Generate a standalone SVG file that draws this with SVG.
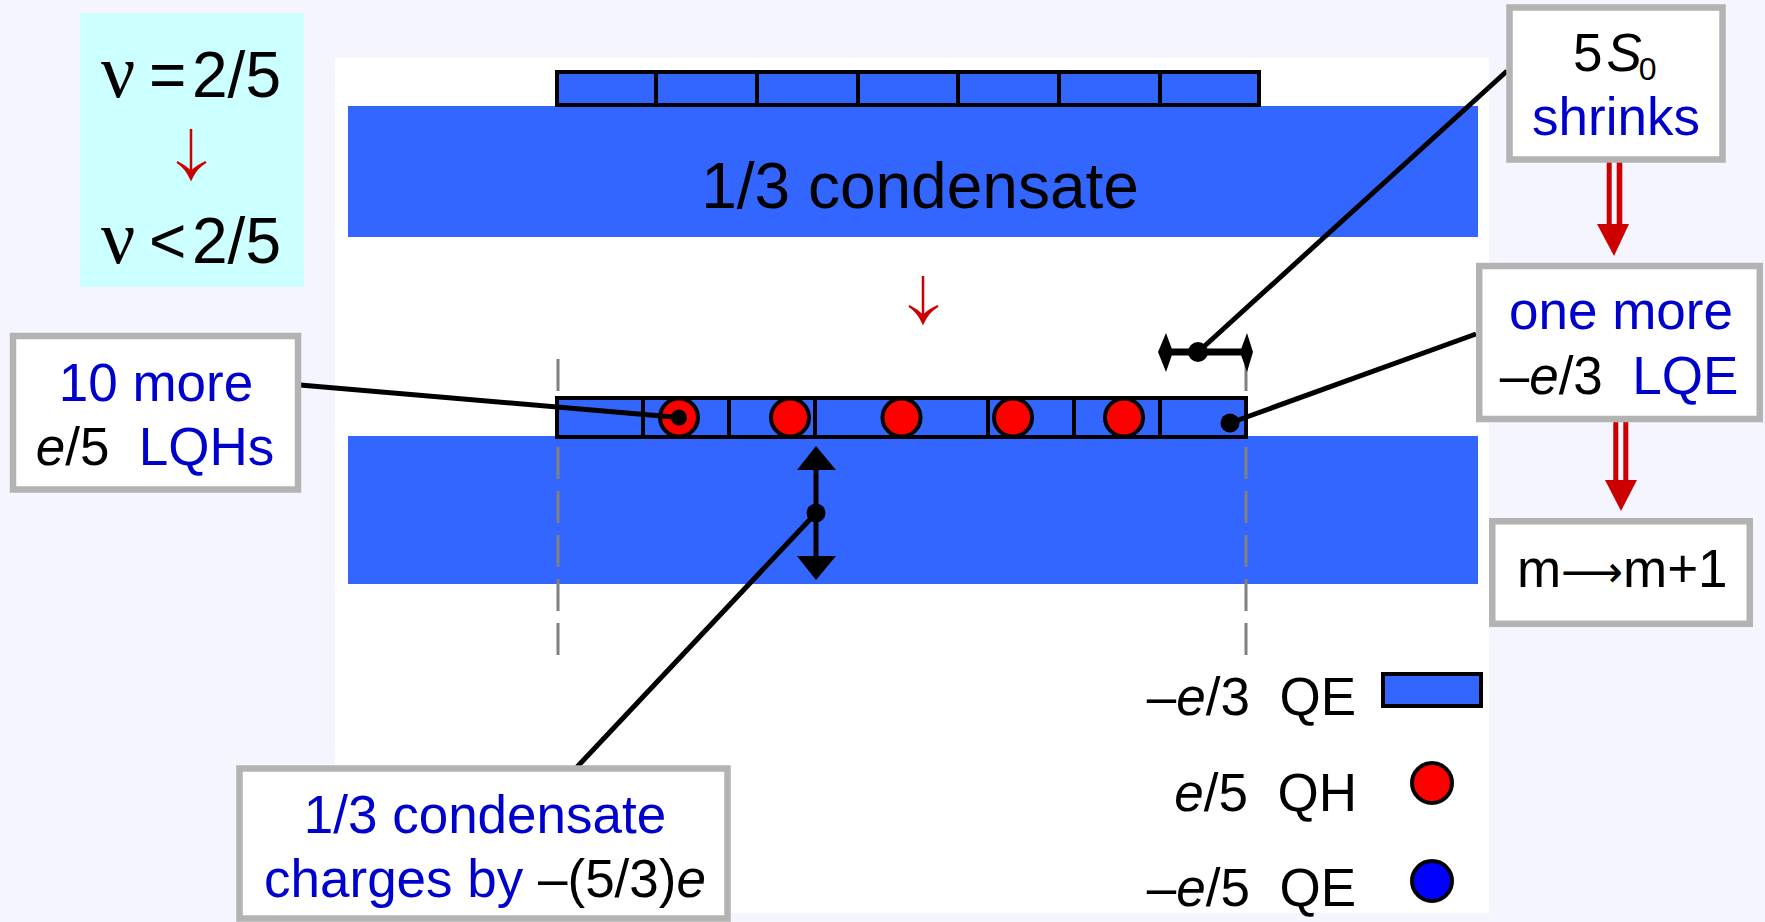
<svg xmlns="http://www.w3.org/2000/svg" width="1765" height="922" viewBox="0 0 1765 922">
<style>
.t{font-family:"Liberation Sans",Arial,sans-serif;font-size:53px;fill:#000}
.b{fill:#0000CC}
.i{font-style:italic}
.box{fill:#fff;stroke:#B3B3B3;stroke-width:6.5}
.cell{fill:#3366FF;stroke:#000;stroke-width:4}
.div{stroke:#000;stroke-width:4}
.qh{fill:#FF0000;stroke:#000;stroke-width:4}
.lead{stroke:#000;stroke-width:5;fill:none}
.dash{stroke:#808080;stroke-width:3;stroke-dasharray:32 12;fill:none}
.band{fill:#3366FF}
.red{fill:#CC0000}
.rarrow{stroke:#CC0000;stroke-width:2.5;fill:none}
.nu{font-family:"Liberation Serif","Times New Roman",serif;font-size:76px}
</style>
<rect x="0" y="0" width="1765" height="922" fill="#F4F5FE"/>
<rect x="335" y="58" width="1154" height="855" fill="#fff"/>

<g id="nu-box">
  <rect x="80" y="13" width="224" height="274" fill="#CCFFFF"/>
  <text class="t" y="97" style="font-size:64px"><tspan class="nu" x="101">ν</tspan><tspan x="149">=</tspan><tspan x="192">2/5</tspan></text>
  <path class="rarrow" d="M191,129 V177"/>
  <path class="red" d="M177,162 Q186,168 191,179 Q196,168 206,162 Q197,166 191,172 Q185,166 177,162 Z" stroke="#CC0000" stroke-width="2"/>
  <text class="t" y="263" style="font-size:64px"><tspan class="nu" x="101">ν</tspan><tspan x="149">&lt;</tspan><tspan x="192">2/5</tspan></text>
</g>

<g id="top-band">
  <rect class="band" x="348" y="106" width="1130" height="131"/>
  <text class="t" x="920" y="208" text-anchor="middle" style="font-size:64px">1/3 condensate</text>
</g>

<g id="top-row">
  <rect class="cell" x="557" y="72" width="702" height="33"/>
  <path class="div" d="M656,72V105M757,72V105M858,72V105M958,72V105M1059,72V105M1160,72V105"/>
</g>

<g id="mid-arrow">
  <path class="rarrow" d="M923,276 V321"/>
  <path class="red" d="M909,306 Q918,312 923,323 Q928,312 938,306 Q929,310 923,316 Q917,310 909,306 Z" stroke="#CC0000" stroke-width="2"/>
</g>

<g id="bottom-band">
  <rect class="band" x="348" y="436" width="1130" height="148"/>
</g>

<g id="dashed-guides">
  <path class="dash" d="M558,359V655"/>
  <path class="dash" d="M1246,359V655"/>
</g>

<g id="mid-row">
  <rect class="cell" x="557" y="398" width="689" height="39"/>
  <path class="div" d="M643,398V437M729,398V437M815,398V437M902,398V437M988,398V437M1074,398V437M1160,398V437"/>
  <circle class="qh" cx="679" cy="417.5" r="19"/>
  <circle class="qh" cx="790" cy="417.5" r="19"/>
  <circle class="qh" cx="901.5" cy="417.5" r="19"/>
  <circle class="qh" cx="1013" cy="417.5" r="19"/>
  <circle class="qh" cx="1124" cy="417.5" r="19"/>
</g>

<g id="charge-arrow">
  <path d="M816,468V558" stroke="#000" stroke-width="5"/>
  <path d="M797,470H836L816,446Z M797,556H836L816,580Z" fill="#000"/>
</g>

<g id="shrink-arrow">
  <path d="M1170,352H1242" stroke="#000" stroke-width="7"/>
  <path d="M1158,352L1166,333L1173,352L1166,372Z M1253,352L1247,333L1240,352L1247,372Z" fill="#000"/>
</g>

<g id="connectors">
  <path class="lead" d="M300,385L679,417.5"/>
  <circle cx="679" cy="417.5" r="8" fill="#000"/>
  <path class="lead" d="M816,513L577,767"/>
  <circle cx="816" cy="513" r="9.5" fill="#000"/>
  <path class="lead" d="M1198,352L1507,71"/>
  <circle cx="1198" cy="352" r="10" fill="#000"/>
  <path class="lead" d="M1230,423L1476,334"/>
  <circle cx="1230" cy="423" r="9.5" fill="#000"/>
  <path d="M1606.7,160H1611.7V226H1606.7Z M1616.7,160H1622.3V226H1616.7Z" class="red"/>
  <path d="M1597,224H1629L1614,256Z" class="red"/>
  <path d="M1613.3,422H1618.3V482H1613.3Z M1623.3,422H1628.3V482H1623.3Z" class="red"/>
  <path d="M1605,480H1637L1621,511Z" class="red"/>
</g>

<g id="box-shrinks">
  <rect class="box" x="1509.5" y="7.5" width="213" height="152"/>
  <text class="t" x="1573" y="71">5<tspan class="i" dx="4">S</tspan><tspan dx="-3" dy="9" style="font-size:32px">0</tspan></text>
  <text class="t b" x="1616" y="135" text-anchor="middle">shrinks</text>
</g>

<g id="box-lqe">
  <rect class="box" x="1479.25" y="266" width="280.5" height="153"/>
  <text class="t b" x="1621" y="329" text-anchor="middle">one more</text>
  <text class="t" x="1619" y="394" text-anchor="middle" xml:space="preserve">–<tspan class="i">e</tspan>/3  <tspan class="b">LQE</tspan></text>
</g>

<g id="box-m">
  <rect class="box" x="1492.25" y="521.25" width="257.5" height="102.5"/>
  <text class="t" y="587"><tspan x="1517">m</tspan><tspan x="1561" textLength="62" lengthAdjust="spacingAndGlyphs" style="font-family:'DejaVu Sans',sans-serif;font-size:44px">⟶</tspan><tspan x="1623">m+1</tspan></text>
</g>

<g id="box-lqh">
  <rect class="box" x="13" y="336" width="285" height="153.5"/>
  <text class="t b" x="156" y="401" text-anchor="middle">10 more</text>
  <text class="t" x="155" y="465" text-anchor="middle" xml:space="preserve"><tspan class="i">e</tspan>/5  <tspan class="b">LQHs</tspan></text>
</g>

<g id="box-condensate">
  <rect class="box" x="239.5" y="768.5" width="488" height="150"/>
  <text class="t b" x="485" y="833" text-anchor="middle">1/3 condensate</text>
  <text class="t" x="485" y="897" text-anchor="middle" xml:space="preserve"><tspan class="b">charges by </tspan>–(5/3)<tspan class="i">e</tspan></text>
</g>

<g id="legend">
  <text class="t" x="1356" y="715" text-anchor="end" xml:space="preserve">–<tspan class="i">e</tspan>/3  QE</text>
  <rect class="cell" x="1383" y="674" width="98" height="32"/>
  <text class="t" x="1357" y="811" text-anchor="end" xml:space="preserve"><tspan class="i">e</tspan>/5  QH</text>
  <circle class="qh" cx="1432" cy="783" r="20"/>
  <text class="t" x="1356" y="906" text-anchor="end" xml:space="preserve">–<tspan class="i">e</tspan>/5  QE</text>
  <circle cx="1432" cy="881" r="20" fill="#0000FF" stroke="#000" stroke-width="4"/>
</g>
</svg>
